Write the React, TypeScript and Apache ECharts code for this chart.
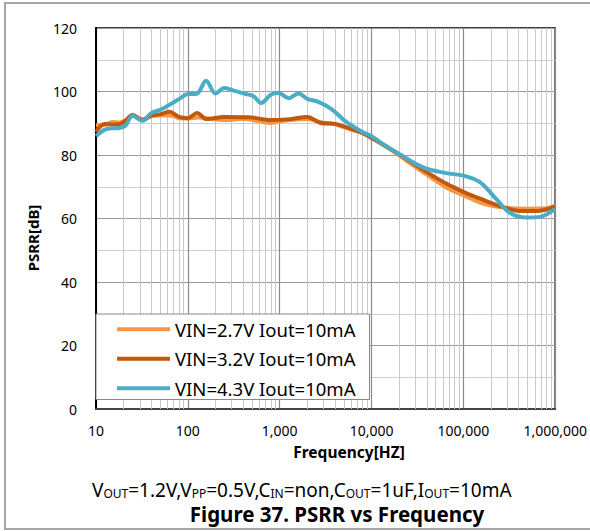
import React, { useEffect, useRef } from "react";
import * as echarts from "echarts";

// ---- Data ----
const seriesNames = ["VIN=2.7V Iout=10mA", "VIN=3.2V Iout=10mA", "VIN=4.3V Iout=10mA"];
const seriesColors = ["#F79646", "#C0580E", "#4BACC6"];

const freq27 = [10, 12.5, 15, 18, 21, 25, 32, 40, 55, 70, 80, 100, 130, 200, 260, 400, 600, 800, 1000, 1300, 2000, 2800, 4000, 6000, 8000, 12000, 18000, 27000, 40000, 65000, 100000, 160000, 270000, 500000, 750000, 1000000];
const psrr27 = [89.4, 89.5, 90.4, 90.2, 91, 92.5, 91.3, 92.2, 92.5, 92.3, 91.6, 91.5, 91.8, 91.2, 91, 91.4, 90.6, 90.1, 90.6, 91, 91.3, 90.3, 89.7, 88, 87, 84, 80.8, 77.2, 73.8, 69.8, 67.3, 64.8, 63.5, 63.1, 63.2, 64];

const freq32 = [10, 12.5, 15, 18, 21, 25, 32, 40, 50, 63, 80, 100, 126, 160, 250, 460, 800, 1300, 2000, 2800, 4000, 6000, 8000, 12000, 18000, 27000, 40000, 65000, 100000, 160000, 270000, 400000, 650000, 1000000];
const psrr32 = [87.3, 89.8, 89.6, 89.7, 90.8, 92.6, 91, 92.4, 92.8, 93.6, 92, 91.6, 93.2, 91.3, 92, 91.9, 91, 91.3, 92, 90.1, 89.8, 88.2, 86.9, 84.1, 81, 77.8, 74.6, 71, 68.4, 66, 63.6, 62.4, 62.4, 63.8];

const freq43 = [10, 12.5, 15, 18, 21, 25, 32, 40, 50, 63, 80, 100, 125, 158, 200, 250, 330, 430, 520, 630, 800, 970, 1250, 1600, 2000, 2600, 3700, 5200, 7700, 10000, 14000, 20000, 37000, 65000, 100000, 150000, 230000, 320000, 480000, 700000, 1000000];
const psrr43 = [86, 88, 88.4, 88.5, 89.3, 92.4, 90.8, 93.2, 94.2, 95.8, 97.6, 99.2, 99.3, 103.4, 99.4, 101.1, 100.1, 99.2, 98.5, 96.4, 99.0, 99.5, 97.9, 99.4, 97.7, 96.8, 94.4, 90.6, 87.5, 85.9, 83, 80.3, 76, 74.3, 73.5, 71.5, 66, 61.8, 60.3, 60.6, 63];

// minor vertical gridline positions (2..9 within each decade)
const minorFreqs = [20, 30, 40, 50, 60, 70, 80, 90, 200, 300, 400, 500, 600, 700, 800, 900, 2000, 3000, 4000, 5000, 6000, 7000, 8000, 9000, 20000, 30000, 40000, 50000, 60000, 70000, 80000, 90000, 200000, 300000, 400000, 500000, 600000, 700000, 800000, 900000];

const xMin = 10;
const xMax = 1000000;
const yMin = 0;
const yMax = 120;
const yInterval = 20;

const FONT = "Noto Sans";

const zip = (xs: number[], ys: number[]) => xs.map((x, i) => [x, ys[i]]);

export default function App() {
  const ref = useRef<HTMLDivElement>(null);

  useEffect(() => {
    if (!ref.current) return;
    const chart = echarts.init(ref.current, undefined, { renderer: "svg" });

    const freqs = [freq27, freq32, freq43];
    const vals = [psrr27, psrr32, psrr43];

    const series: any[] = seriesNames.map((name, i) => ({
      name,
      type: "line",
      data: zip(freqs[i], vals[i]),
      smooth: 0.35,
      showSymbol: false,
      symbol: "none",
      z: 3,
      lineStyle: { color: seriesColors[i], width: 4 },
      itemStyle: { color: seriesColors[i] },
      ...(i === 0
        ? {
            markLine: {
              silent: true,
              z: 1,
              symbol: ["none", "none"],
              label: { show: false },
              lineStyle: { color: "#c9c9c9", width: 1, type: "solid" },
              emphasis: { disabled: true },
              data: minorFreqs.map((f) => ({ xAxis: f })),
            },
          }
        : {}),
    }));

    const sub = { fontFamily: FONT, fontSize: 12, lineHeight: 15, verticalAlign: "bottom", fill: "#000" };
    const main = { fontFamily: FONT, fontSize: 19, lineHeight: 24, verticalAlign: "bottom", fill: "#000" };

    chart.setOption({
      animation: false,
      grid: {
        left: 96,
        top: 28,
        right: 31,
        bottom: 122,
        show: true,
        borderColor: "#000",
        borderWidth: 1.5,
        backgroundColor: "transparent",
      },
      legend: {
        data: seriesNames,
        orient: "vertical",
        left: 96,
        top: 314,
        icon: "rect",
        itemWidth: 53,
        itemHeight: 4,
        itemGap: 9,
        padding: [5, 14, 1, 21],
        backgroundColor: "#fff",
        borderColor: "#888",
        borderWidth: 1,
        borderRadius: 0,
        textStyle: { fontFamily: FONT, fontSize: 18.5, color: "#000", lineHeight: 20.5 },
        selectedMode: false,
        z: 10,
      },
      xAxis: {
        type: "log",
        logBase: 10,
        min: xMin,
        max: xMax,
        axisLine: { show: true, lineStyle: { color: "#444", width: 2 } },
        axisTick: { show: false },
        splitLine: { show: true, lineStyle: { color: "#8c8c8c", width: 1.2 } },
        axisLabel: {
          fontFamily: FONT,
          fontSize: 14,
          color: "#000",
          margin: 14,
          formatter: (v: number) => Math.round(v).toLocaleString("en-US"),
        },
      },
      yAxis: {
        type: "value",
        min: yMin,
        max: yMax,
        interval: yInterval,
        axisLine: { show: true, lineStyle: { color: "#000", width: 2 } },
        axisTick: { show: false },
        splitLine: { show: true, lineStyle: { color: "#9a9a9a", width: 1.2 } },
        minorTick: { show: false, splitNumber: 2 },
        minorSplitLine: { show: true, lineStyle: { color: "#cfcfcf", width: 1 } },
        axisLabel: { fontFamily: FONT, fontSize: 14, color: "#000", margin: 19 },
      },
      series,
      graphic: [
        {
          type: "rect",
          silent: true,
          shape: { x: 5, y: 3, width: 700, height: 526 },
          style: { fill: "none", stroke: "#a6a6a6", lineWidth: 2 },
          z: -10,
        },
        {
          type: "text",
          x: 33,
          y: 238,
          rotation: Math.PI / 2,
          style: {
            text: "PSRR[dB]",
            fontFamily: FONT,
            fontSize: 15,
            fontWeight: "bold",
            fill: "#000",
            align: "center",
            verticalAlign: "middle",
          },
        },
        {
          type: "text",
          x: 349,
          y: 452,
          style: {
            text: "Frequency[HZ]",
            fontFamily: FONT,
            fontSize: 15.5,
            fontWeight: "bold",
            fill: "#000",
            align: "center",
            verticalAlign: "middle",
          },
        },
        {
          type: "text",
          x: 92,
          y: 475,
          style: {
            text:
              "{m|V}{s|OUT}{m|=1.2V,V}{s|PP}{m|=0.5V,C}{s|IN}{m|=non,C}{s|OUT}{m|=1uF,I}{s|OUT}{m|=10mA}",
            align: "left",
            verticalAlign: "top",
            rich: { m: main, s: sub },
          },
        },
        {
          type: "text",
          x: 337,
          y: 514,
          style: {
            text: "Figure 37. PSRR vs Frequency",
            fontFamily: FONT,
            fontSize: 20.5,
            fontWeight: "bold",
            fill: "#000",
            align: "center",
            verticalAlign: "middle",
          },
        },
      ],
    });

    return () => chart.dispose();
  }, []);

  return (
    <div
      ref={ref}
      style={{ position: "fixed", left: 0, top: 0, width: 590, height: 531, background: "#fff" }}
    />
  );
}
